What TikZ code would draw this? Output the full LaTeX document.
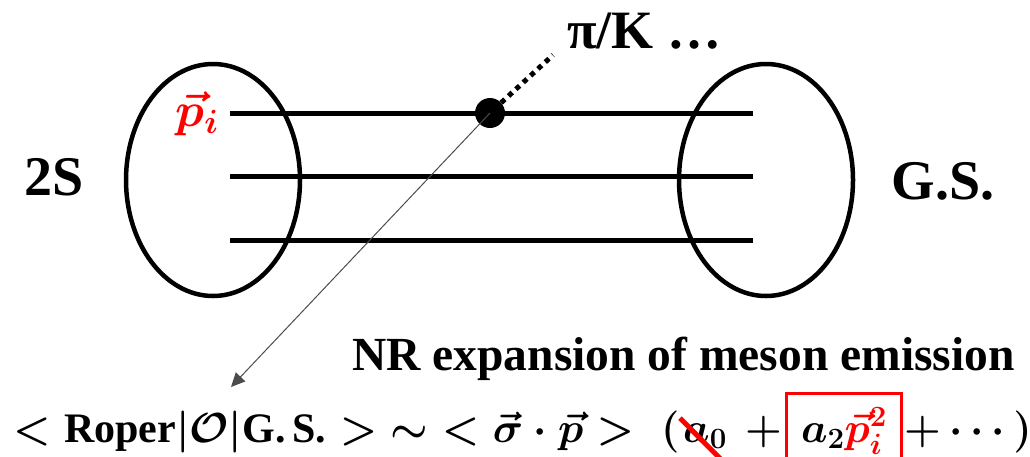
\RequirePackage{fix-cm}
\documentclass[tikz,border=0pt]{standalone}
\usepackage{fontspec}
\setmainfont{Liberation Serif}
\usepackage{amsmath,bm}
\usetikzlibrary{arrows.meta,shapes.geometric,calc}
\tikzset{
  bag/.style={ellipse, draw, line width=4.5pt, minimum width=174pt, minimum height=232pt, inner sep=0pt},
  quark/.style={line width=5pt},
  bigtxt/.style={font=\bfseries\fontsize{56}{64}\selectfont},
  eqpart/.style={anchor=base west, inner sep=0pt, font=\fontsize{42}{50}\selectfont\boldmath}
}
\begin{document}
\begin{tikzpicture}[x=1pt,y=-1pt]
\useasboundingbox (0,0) rectangle (1030,456);
\clip (0,0) rectangle (1030,456);
% bags
\node[bag] (L) at (213,180) {};
\node[bag] (R) at (766,180) {};
% quark lines
\coordinate (q1s) at (230,113); \coordinate (q1e) at (753,113);
\coordinate (q2s) at (230,176); \coordinate (q2e) at (753,176);
\coordinate (q3s) at (230,240); \coordinate (q3e) at (753,240);
\draw[quark] (q1s) -- (q1e);
\draw[quark] (q2s) -- (q2e);
\draw[quark] (q3s) -- (q3e);
% vertex
\node[circle, fill, minimum size=30pt, inner sep=0pt] (dot) at (490,113) {};
\coordinate (mes) at (553,55);
\draw[line width=5pt, dash pattern=on 5pt off 5pt] (dot) -- (mes);
\node[anchor=base west, inner sep=0pt, font=\bfseries\fontsize{54}{60}\selectfont] (pk) at (567,48) {π/K …};
% arrow
\coordinate (tip) at (231,387);
\draw[line width=1pt, black!70, -{Triangle[length=14pt,width=13pt]}] (dot.center) -- (tip);
% labels
\node[bigtxt] (s2) at (54,177) {2S};
\node[bigtxt] (gs) at (943,181) {G.S.};
\node[red, inner sep=0pt, font=\fontsize{48}{54}\selectfont\boldmath] (pi) at (197,114) {$\vec{p}_{i}$};
\node[anchor=base west, inner sep=0pt, font=\bfseries\fontsize{47.5}{56}\selectfont] (nr) at (352,370) {NR expansion of meson emission};
% equation
\node[eqpart] (eqa) at (13,442) {$<\textbf{Roper}|\mathcal{O}|\textbf{G.\,S.}>\;\sim\;<\vec{\sigma}\cdot\vec{p}>\;($};
\node[eqpart] (a0) at (683,442) {$a_0$};
\node[eqpart] (pl1) at (745,442) {$+$};
\node[eqpart, draw=red, line width=3pt, minimum width=115pt, text height=49pt, text depth=30pt] (box) at (785,442) {$a_2\textcolor{red}{\vec{p}_{i}^{2}}$};
\node[eqpart] (rest) at (904,442) {${+}\cdots)$};
\draw[red, line width=5pt] ($(a0.north west)+(-3,-5)$) -- ($(a0.south east)+(3,20)$);
\end{tikzpicture}
\end{document}
